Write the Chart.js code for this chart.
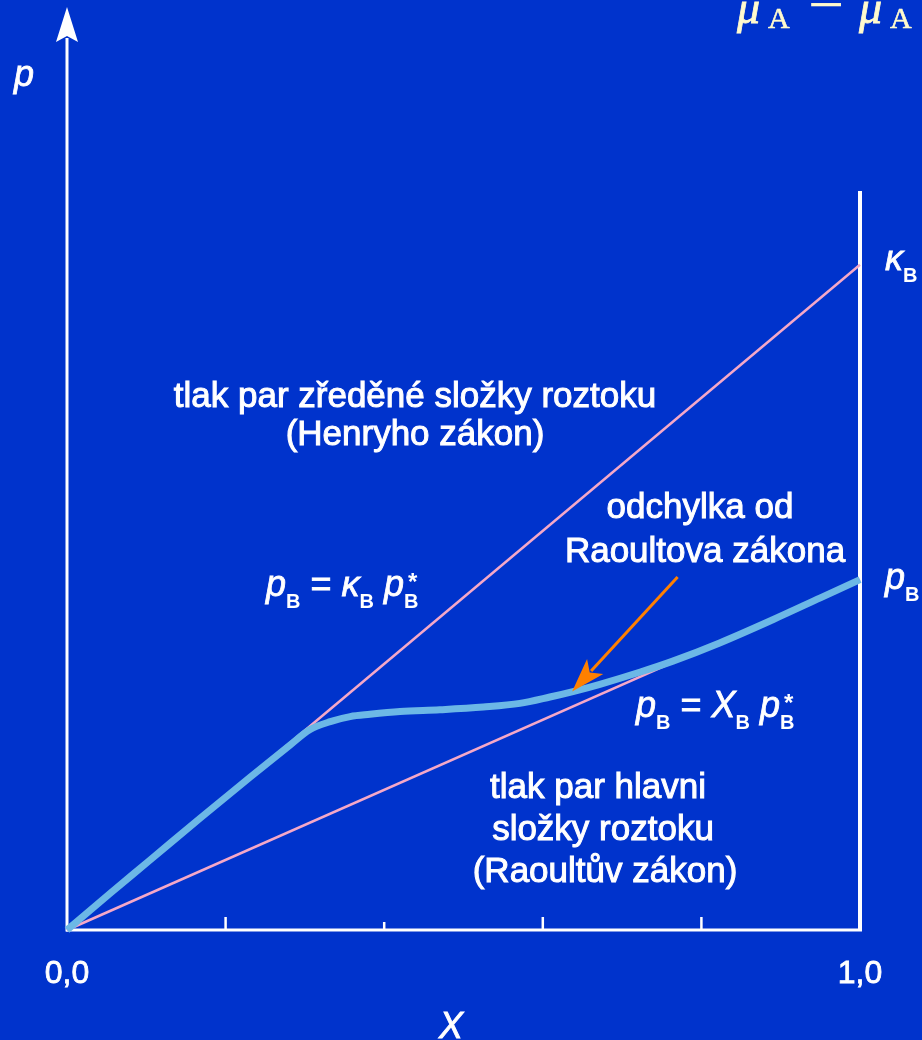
<!DOCTYPE html>
<html>
<head>
<meta charset="utf-8">
<script src="https://cdn.jsdelivr.net/npm/chart.js@4.4.0/dist/chart.umd.min.js"></script>
<style>
  html, body { margin: 0; padding: 0; background: #0033cc; overflow: hidden; }
</style>
</head>
<body>
<canvas id="raoultChart" width="922" height="1040"></canvas>
<script>
// molární zlomek X_B a tlak (osa y: 0 = dole, 1 = horní okraj grafu)
const curveX = [0, 0.054, 0.105, 0.168, 0.231, 0.281, 0.306, 0.332, 0.357, 0.382, 0.420, 0.470, 0.525, 0.571, 0.609, 0.638, 0.672, 0.723, 0.764, 0.823, 0.890, 0.950, 1];
const curveY = [0, 0.040, 0.077, 0.123, 0.168, 0.203, 0.220, 0.229, 0.2345, 0.237, 0.240, 0.242, 0.245, 0.249, 0.256, 0.262, 0.270, 0.2835, 0.2955, 0.3155, 0.341, 0.365, 0.385];
const henryX = [0, 1];
const henryY = [0, 0.731];
const raoultX = [0, 1];
const raoultY = [0, 0.385];
const tickValues = [0.2, 0.4, 0.6, 0.8];
const tickLabels = ['0,0', '1,0'];
const rightAxisTop = 0.812;
const arrowFrom = [0.770, 0.388];
const arrowTo = [0.637, 0.262];

const toPoints = (xs, ys) => xs.map((x, i) => ({ x: x, y: ys[i] }));

const WHITE = '#ffffff';
const SANS = '"Liberation Sans", Arial, sans-serif';
const SERIF = '"Liberation Serif", "Times New Roman", serif';

function txt(ctx, s, x, y, font, align, color, heavy) {
    ctx.font = font;
    ctx.textAlign = align || 'center';
    ctx.textBaseline = 'alphabetic';
    ctx.fillStyle = color || WHITE;
    ctx.fillText(s, x, y);
    if (heavy) {
        ctx.strokeStyle = color || WHITE;
        ctx.lineWidth = heavy;
        ctx.strokeText(s, x, y);
    }
}

// vzorec: [text, druh]  i = kurzíva, r = normální, s = index B, S = index B s hvězdičkou
function formula(ctx, x, base, parts) {
    ctx.textAlign = 'left';
    ctx.textBaseline = 'alphabetic';
    ctx.fillStyle = WHITE;
    ctx.strokeStyle = WHITE;
    ctx.lineWidth = 0.8;
    parts.forEach(p => {
        const kind = p[1];
        if (kind === 'i' || kind === 'r') {
            ctx.font = (kind === 'i' ? 'italic ' : '') + '36px ' + SANS;
            ctx.fillText(p[0], x, base);
            ctx.strokeText(p[0], x, base);
            x += ctx.measureText(p[0]).width;
        } else {
            ctx.font = 'bold 20px ' + SANS;
            ctx.fillText(p[0], x, base + 12);
            if (kind === 'S') {
                ctx.font = 'bold 24px ' + SANS;
                ctx.fillText('*', x + 4, base - 6);
            }
            ctx.font = 'bold 20px ' + SANS;
            x += ctx.measureText(p[0]).width;
        }
    });
}

const decor = {
    id: 'decor',
    beforeDatasetsDraw(chart) {
        const ctx = chart.ctx;
        const xs = chart.scales.x, ys = chart.scales.y;
        const x0 = xs.getPixelForValue(0), x1 = xs.getPixelForValue(1);
        const y0 = ys.getPixelForValue(0);
        const top = chart.chartArea.top;
        ctx.save();
        ctx.strokeStyle = WHITE;
        ctx.fillStyle = WHITE;
        ctx.lineWidth = 3;
        // osa p se šipkou
        ctx.beginPath();
        ctx.moveTo(x0, y0 + 1.5);
        ctx.lineTo(x0, top + 18);
        ctx.stroke();
        ctx.beginPath();
        ctx.moveTo(x0, top - 13);
        ctx.lineTo(x0 + 11, top + 22);
        ctx.lineTo(x0, top + 16);
        ctx.lineTo(x0 - 11, top + 22);
        ctx.closePath();
        ctx.fill();
        // osa X
        ctx.beginPath();
        ctx.moveTo(x0 - 1, y0);
        ctx.lineTo(x1 + 2, y0);
        ctx.stroke();
        // pravá osa
        ctx.lineWidth = 4;
        ctx.beginPath();
        ctx.moveTo(x1, y0);
        ctx.lineTo(x1, ys.getPixelForValue(rightAxisTop));
        ctx.stroke();
        // vnitřní značky
        ctx.lineWidth = 2.5;
        tickValues.forEach((v, i) => {
            const px = xs.getPixelForValue(v);
            ctx.beginPath();
            ctx.moveTo(px, y0);
            ctx.lineTo(px, y0 - (i === 1 ? 8 : 13));
            ctx.stroke();
        });
        ctx.restore();
    },
    afterDatasetsDraw(chart) {
        const ctx = chart.ctx;
        const xs = chart.scales.x, ys = chart.scales.y;
        ctx.save();

        // oranžová šipka
        const ax = xs.getPixelForValue(arrowFrom[0]), ay = ys.getPixelForValue(arrowFrom[1]);
        const bx = xs.getPixelForValue(arrowTo[0]), by = ys.getPixelForValue(arrowTo[1]);
        const ang = Math.atan2(by - ay, bx - ax);
        const hl = 34, hw = 11;
        ctx.strokeStyle = '#ff8000';
        ctx.fillStyle = '#ff8000';
        ctx.lineWidth = 3;
        ctx.beginPath();
        ctx.moveTo(ax, ay);
        ctx.lineTo(bx - Math.cos(ang) * (hl - 6), by - Math.sin(ang) * (hl - 6));
        ctx.stroke();
        const cx = bx - Math.cos(ang) * hl, cy = by - Math.sin(ang) * hl;
        ctx.beginPath();
        ctx.moveTo(bx, by);
        ctx.lineTo(cx - Math.sin(ang) * hw, cy + Math.cos(ang) * hw);
        ctx.lineTo(bx - Math.cos(ang) * (hl - 8), by - Math.sin(ang) * (hl - 8));
        ctx.lineTo(cx + Math.sin(ang) * hw, cy - Math.cos(ang) * hw);
        ctx.closePath();
        ctx.fill();

        // popisky os
        txt(ctx, 'p', 14, 86, 'italic 36px ' + SANS, 'left', WHITE, 0.8);
        txt(ctx, 'X', 451, 1038, 'italic 36px ' + SANS, 'center', WHITE, 0.8);
        txt(ctx, tickLabels[0], xs.getPixelForValue(0), 983, '32px ' + SANS, 'center', WHITE, 0.8);
        txt(ctx, tickLabels[1], xs.getPixelForValue(1), 983, '32px ' + SANS, 'center', WHITE, 0.8);

        // texty
        const f = '35px ' + SANS;
        txt(ctx, 'tlak par zředěné složky roztoku', 415, 407, f, 'center', WHITE, 1);
        txt(ctx, '(Henryho zákon)', 415, 445, f, 'center', WHITE, 1);
        txt(ctx, 'odchylka od', 700, 518, f, 'center', WHITE, 1);
        txt(ctx, 'Raoultova zákona', 705, 562, f, 'center', WHITE, 1);
        txt(ctx, 'tlak par hlavni', 598, 798, f, 'center', WHITE, 1);
        txt(ctx, 'složky roztoku', 603, 840, f, 'center', WHITE, 1);
        txt(ctx, '(Raoultův zákon)', 605, 882, f, 'center', WHITE, 1);

        formula(ctx, 266, 596, [['p', 'i'], ['B', 's'], [' = ', 'r'], ['κ', 'i'], ['B', 's'], [' ', 'r'], ['p', 'i'], ['B', 'S']]);
        formula(ctx, 636, 717, [['p', 'i'], ['B', 's'], [' = ', 'r'], ['X', 'i'], ['B', 's'], [' ', 'r'], ['p', 'i'], ['B', 'S']]);
        formula(ctx, 885, 270, [['κ', 'i'], ['B', 's']]);
        formula(ctx, 885, 589, [['p', 'i'], ['B', 's']]);

        // μA − μA nahoře vpravo
        const cream = '#fffacd';
        txt(ctx, 'μ', 737, 23, 'italic 46px ' + SERIF, 'left', cream, 0.8);
        txt(ctx, 'A', 768, 28, '30px ' + SERIF, 'left', cream, 0.6);
        txt(ctx, '−', 808, 26, '64px ' + SERIF, 'left', cream);
        txt(ctx, 'μ', 859, 23, 'italic 46px ' + SERIF, 'left', cream, 0.8);
        txt(ctx, 'A', 890, 28, '30px ' + SERIF, 'left', cream, 0.6);
        ctx.restore();
    }
};

const ctx = document.getElementById('raoultChart').getContext('2d');
const chart = new Chart(ctx, {
    type: 'scatter',
    data: {
        datasets: [
            {
                label: 'skutečný tlak',
                data: toPoints(curveX, curveY),
                showLine: true,
                borderColor: '#6cb8e6',
                borderWidth: 7,
                cubicInterpolationMode: 'monotone',
                pointRadius: 0,
                clip: false,
                order: 0
            },
            {
                label: 'Henryho zákon',
                data: toPoints(henryX, henryY),
                showLine: true,
                borderColor: '#f5a8c8',
                borderWidth: 2.5,
                pointRadius: 0,
                clip: false,
                order: 1
            },
            {
                label: 'Raoultův zákon',
                data: toPoints(raoultX, raoultY),
                showLine: true,
                borderColor: '#f5a8c8',
                borderWidth: 2.5,
                pointRadius: 0,
                clip: false,
                order: 1
            }
        ]
    },
    options: {
        responsive: false,
        animation: false,
        layout: { padding: { left: 67, right: 62, top: 20, bottom: 110 } },
        plugins: { legend: { display: false }, tooltip: { enabled: false } },
        scales: {
            x: { type: 'linear', min: 0, max: 1, display: false },
            y: { type: 'linear', min: 0, max: 1, display: false }
        }
    },
    plugins: [decor]
});
</script>
</body>
</html>
